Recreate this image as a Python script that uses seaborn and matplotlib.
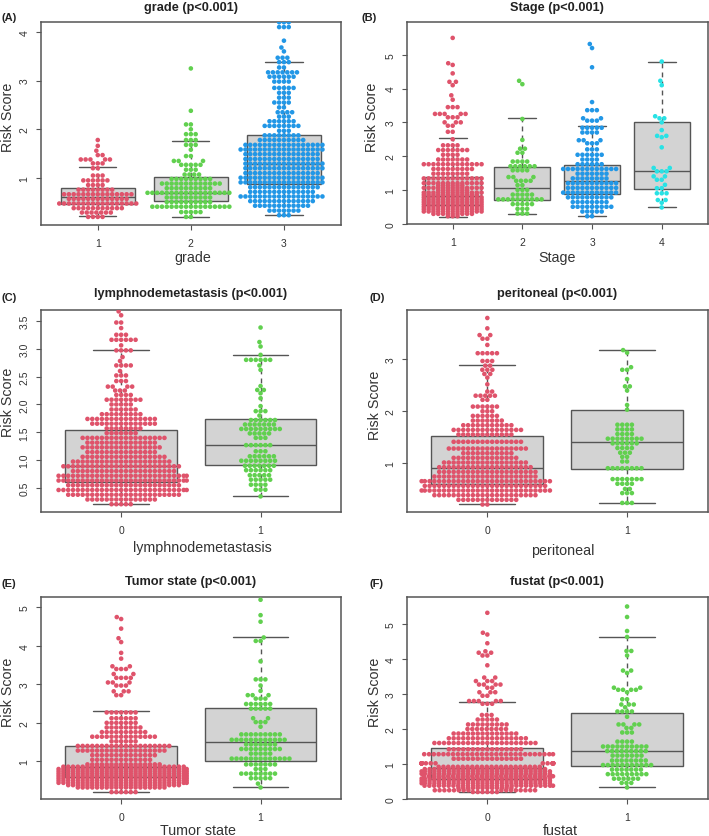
import logging
import warnings
import numpy as np
import pandas as pd
import matplotlib
matplotlib.use("Agg")
import matplotlib.pyplot as plt
import seaborn as sns
from seaborn import categorical as sns_cat

warnings.filterwarnings("ignore")

RED, GREEN, BLUE, CYAN = "#DF536B", "#61D04F", "#2297E6", "#28E2E5"
TITLES = ["grade", "Stage", "lymphnodemetastasis", "peritoneal", "Tumor state", "fustat"]

# (A) grade
a1_y = [.2,.29,.38,.475,.57,.665,.76,.855,.95,1.05,1.2,1.3,1.38,1.47,1.56,1.66,1.78]
a1_n = [4,7,11,17,13,15,8,4,6,3,2,3,5,2,1,1,1]
a2_y = [.2,.3,.41,.505,.6,.695,.79,.885,.98,1.07,1.17,1.27,1.35,1.45,1.58,1.68,1.78,1.9,2.0,2.1,2.38,3.25]
a2_n = [2,5,17,10,10,18,10,13,9,4,3,5,3,2,1,3,3,3,1,2,1,1]
a3_y = [.235,.33,.43,.525,.62,.715,.81,.91,1.005,1.10,1.2,1.295,1.39,1.49,1.585,1.68,1.78,1.875,1.97,2.07,2.165,2.26,2.35,2.45,2.55,2.65,2.75,2.85,2.98,3.08,3.17,3.27,3.38,3.47,3.6,3.68,3.82,4.1,4.2]
a3_n = [3,7,12,14,18,14,15,18,18,16,17,17,16,16,18,17,10,8,3,8,6,3,4,2,4,3,3,5,4,6,7,2,3,3,1,1,1,3,3]
# (B) Stage
b1_y = [.22,.36,.5,.64,.78,.92,1.06,1.2,1.34,1.48,1.62,1.76,1.9,2.04,2.18,2.32,2.5,2.72,2.9,3.0,3.15,3.25,3.45,3.67,3.8,4.1,4.2,4.45,4.7,4.75,5.5]
b1_n = [3,13,13,13,13,13,13,13,13,8,9,13,7,4,7,4,1,2,2,3,3,5,3,1,1,1,2,1,1,1,1]
b1x_y = [.29,.43,.57,.71,.85,.99,1.13]
b1x_n = [9,13,13,13,12,7,6]
b2_y = [.3,.44,.58,.72,.86,1.0,1.14,1.27,1.38,1.58,1.7,1.84,2.1,2.22,2.48,3.1,4.13,4.23]
b2_n = [3,3,5,10,5,3,2,4,3,4,6,4,2,2,1,1,1,1]
b3_y = [.22,.36,.5,.64,.78,.92,1.06,1.2,1.34,1.48,1.62,1.76,1.9,2.04,2.2,2.38,2.47,2.7,2.84,3.05,3.12,3.36,3.6,4.63,5.2,5.32]
b3_n = [2,5,9,8,10,12,11,11,8,7,12,6,4,6,3,3,3,4,5,3,2,3,1,1,1,1]
b4_y = [.48,.62,.7,.9,1.05,1.15,1.3,1.4,1.55,1.65,2.26,2.56,2.6,2.77,3.0,3.12,3.18,4.1,4.23,4.8]
b4_n = [1,1,2,3,2,1,2,2,3,2,1,1,2,1,1,2,1,1,1,1]
# (C) lymphnodemetastasis
c0_y = [.21,.295,.38,.465,.55,.635,.72,.805,.89,.975,1.06,1.145,1.23,1.315,1.4,1.485,1.57,1.655,1.74,1.825,1.91,2.0,2.085,2.17,2.25,2.32,2.42,2.52,2.6,2.7,2.78,2.85,2.97,3.06,3.16,3.25,3.37,3.47,3.6,3.67]
c0_n = [5,15,24,28,24,28,28,22,25,21,18,15,17,15,18,7,8,14,15,9,6,5,8,4,3,4,3,3,1,4,1,1,4,1,6,3,1,2,1,1]
c1_y = [.35,.47,.56,.65,.73,.82,.9,.99,1.07,1.16,1.27,1.4,1.48,1.56,1.64,1.72,1.8,1.88,1.97,2.11,2.2,2.26,2.33,2.62,2.7,2.8,2.89,3.04,3.12,3.38]
c1_n = [1,3,4,5,5,6,7,8,6,3,6,3,5,9,7,6,1,3,1,1,1,2,1,1,1,6,1,1,1,1]
# (D) peritoneal
d0_y = [.2,.29,.38,.47,.56,.65,.74,.83,.92,1.01,1.1,1.19,1.28,1.41,1.55,1.64,1.73,1.82,1.91,2.0,2.09,2.22,2.3,2.38,2.52,2.65,2.72,2.8,2.88,2.97,3.12,3.28,3.4,3.47,3.6,3.8]
d0_n = [2,13,22,28,26,28,22,21,20,18,14,11,17,15,12,15,11,7,6,3,6,2,5,2,1,1,2,3,2,3,5,1,2,2,1,1]
d1_y = [.23,.42,.5,.6,.69,.9,1.03,1.12,1.2,1.29,1.38,1.47,1.56,1.65,1.74,2.03,2.12,2.4,2.48,2.62,2.8,2.85,3.13,3.18]
d1_n = [3,3,2,4,7,8,2,2,3,4,6,8,4,4,4,1,1,1,2,1,2,1,1,1]
# (E) Tumor state
e0_y = [.2,.32,.44,.56,.68,.8,.92,1.04,1.16,1.28,1.4,1.52,1.64,1.76,1.88,2.0,2.12,2.27,2.72,2.82,2.97,3.05,3.17,3.27,3.4,3.47,3.67,3.82,4.1,4.2,4.45,4.7,4.75]
e0_n = [6,19,28,28,28,28,16,13,14,19,20,6,14,10,8,7,6,7,2,3,3,3,4,2,3,2,1,1,1,1,1,1,1]
e0x_y = [.38,.5,.62,.74,.86]
e0x_n = [24,28,28,28,26]
e1_y = [.32,.42,.56,.68,.8,.92,1.07,1.2,1.32,1.44,1.56,1.7,1.9,2.02,2.12,2.37,2.49,2.63,2.72,2.83,2.97,3.13,3.6,4.13,4.22,4.63,4.8,5.2]
e1_n = [1,1,5,8,3,7,13,5,9,7,12,9,1,3,2,5,6,3,3,1,1,3,1,2,1,1,1,1]
# (F) fustat
f0_y = [.2,.25,.38,.52,.65,.79,.92,1.02,1.15,1.28,1.42,1.6,1.735,1.87,2.0,2.13,2.27,2.4,2.72,2.8,2.95,3.05,3.18,3.27,3.37,3.47,3.82,4.1,4.18,4.22,4.45,4.7,4.75,5.32]
f0_n = [6,16,28,28,28,28,22,28,15,28,16,22,17,14,9,9,5,3,3,5,2,3,2,4,3,2,1,2,2,1,1,1,1,1]
f0x_y = [.315,.45,.585,.72,.855]
f0x_n = [12,28,28,28,26]
f1_y = [.33,.46,.58,.71,.84,.97,1.1,1.24,1.37,1.5,1.64,1.9,2.03,2.13,2.35,2.5,2.62,2.7,2.85,3.05,3.12,3.18,3.6,3.67,4.1,4.23,4.63,4.8,5.2,5.5]
f1_n = [1,3,6,9,7,11,8,7,9,10,4,3,2,4,1,4,1,3,2,1,4,2,1,2,1,2,1,1,1,1]

# box statistics: low whisker, q1, median, q3, high whisker
a_box = [[.22,.47,.60,.79,1.22],[.20,.52,.70,1.03,1.76],[.24,.88,1.28,1.88,3.38]]
b_box = [[.20,.55,.83,1.37,2.53],[.28,.70,1.07,1.68,3.12],[.22,.87,1.25,1.73,2.90],[.48,1.04,1.57,3.02,4.80]]
c_box = [[.21,.60,.90,1.55,2.98],[.35,.91,1.28,1.73,2.89]]
d_box = [[.20,.60,.90,1.53,2.90],[.22,.88,1.40,2.03,3.18]]
e_box = [[.20,.60,.85,1.40,2.32],[.32,1.02,1.50,2.38,4.23]]
f_box = [[.20,.58,.88,1.47,2.78],[.33,.94,1.38,2.47,4.64]]

W, H = 709, 837
sns.set_theme(style="ticks")
plt.rcParams["font.family"] = ["Liberation Sans", "DejaVu Sans"]


class WideSwarm(sns_cat.Beeswarm):
    """R's beeswarm spreads slightly past the box width."""
    def __init__(self, orient="x", width=0.8, warn_thresh=0.05):
        super().__init__(orient=orient, width=0.94, warn_thresh=1.0)


sns_cat.Beeswarm = WideSwarm
logging.disable(logging.WARNING)

fig = plt.figure(figsize=(W / 100, H / 100), dpi=100, facecolor="white")
EDGE = "#555555"


def frame(groups):
    labels, values = [], []
    for lab, (y, n) in groups.items():
        values.append(np.repeat(y, n))
        labels += [lab] * int(np.sum(n))
    return pd.DataFrame({"group": labels, "score": np.concatenate(values)})


panels = [
    dict(tag="(A)", title=TITLES[0], box=(40.7, 22.7, 341, 225.7), ylim=(0.04, 4.21), yt=[1,2,3,4], ytl=["1","2","3","4"],
         labels=["1","2","3"], colors=[RED,GREEN,BLUE], data=[(a1_y,a1_n),(a2_y,a2_n),(a3_y,a3_n)], extra=None, stats=a_box,
         tagxy=(2,18), titlexy=(191,8), xlab=(192.7,258), ylab=(8.2,117)),
    dict(tag="(B)", title=TITLES[1], box=(406.7, 22.7, 707.7, 225), ylim=(-0.01, 5.98), yt=[0,1,2,3,4,5], ytl=list("012345"),
         labels=["1","2","3","4"], colors=[RED,GREEN,BLUE,CYAN], data=[(b1_y,b1_n),(b2_y,b2_n),(b3_y,b3_n),(b4_y,b4_n)], extra=(b1x_y,b1x_n), stats=b_box,
         tagxy=(362,18), titlexy=(557,7.5), xlab=(557,258), ylab=(371.5,117)),
    dict(tag="(C)", title=TITLES[2], box=(40.7, 310.7, 341, 513), ylim=(0.07, 3.70), yt=[.5,1,1.5,2,2.5,3,3.5], ytl=["0.5","1.0","1.5","2.0","2.5","3.0","3.5"],
         labels=["0","1"], colors=[RED,GREEN], data=[(c0_y,c0_n),(c1_y,c1_n)], extra=None, stats=c_box,
         tagxy=(2,298), titlexy=(190.7,294), xlab=(202.7,548), ylab=(8.2,402)),
    dict(tag="(D)", title=TITLES[3], box=(406.7, 310.7, 707.7, 513), ylim=(0.055, 3.96), yt=[1,2,3], ytl=["1","2","3"],
         labels=["0","1"], colors=[RED,GREEN], data=[(d0_y,d0_n),(d1_y,d1_n)], extra=None, stats=d_box,
         tagxy=(370,298), titlexy=(557,294), xlab=(563,551), ylab=(374.5,405)),
    dict(tag="(E)", title=TITLES[4], box=(40.7, 597.7, 341, 800), ylim=(0.02, 5.28), yt=[1,2,3,4,5], ytl=list("12345"),
         labels=["0","1"], colors=[RED,GREEN], data=[(e0_y,e0_n),(e1_y,e1_n)], extra=(e0x_y,e0x_n), stats=e_box,
         tagxy=(2,584), titlexy=(190.7,582), xlab=(197.7,831), ylab=(8.2,692)),
    dict(tag="(F)", title=TITLES[5], box=(406.7, 597.7, 707.7, 800), ylim=(0, 5.78), yt=[0,1,2,3,4,5], ytl=list("012345"),
         labels=["0","1"], colors=[RED,GREEN], data=[(f0_y,f0_n),(f1_y,f1_n)], extra=(f0x_y,f0x_n), stats=f_box,
         tagxy=(370,584), titlexy=(557,582), xlab=(560.7,831), ylab=(374.5,692)),
]

for p in panels:
    x0, y0, x1, y1 = p["box"]
    ax = fig.add_axes([x0 / W, 1 - y1 / H, (x1 - x0) / W, (y1 - y0) / H])
    labels = p["labels"]
    pal = dict(zip(labels, p["colors"]))
    k = len(labels)
    pad = 0.5 + 0.113 if k == 3 else (0.5 + 0.16 if k == 4 else 0.5 + 0.077)
    bxp_stats = [dict(whislo=s[0], q1=s[1], med=s[2], q3=s[3], whishi=s[4], fliers=[]) for s in p["stats"]]
    ax.bxp(bxp_stats, positions=range(k), widths=0.8, patch_artist=True, showfliers=False, manage_ticks=False, zorder=1,
           boxprops=dict(facecolor="#D3D3D3", edgecolor=EDGE, linewidth=1.0),
           medianprops=dict(color=EDGE, linewidth=1.0),
           whiskerprops=dict(color=EDGE, linewidth=1.0, linestyle=(0, (3.5, 3))),
           capprops=dict(color=EDGE, linewidth=1.0), capwidths=0.4)
    df = frame(dict(zip(labels, p["data"])))
    sns.swarmplot(data=df, x="group", y="score", hue="group", order=labels, hue_order=labels, palette=pal,
                  size=3.3, linewidth=0, legend=False, ax=ax, zorder=3)
    if p["extra"] is not None:
        dfx = frame({labels[0]: p["extra"]})
        sns.swarmplot(data=dfx, x="group", y="score", hue="group", order=labels, hue_order=labels, palette=pal,
                      size=3.3, linewidth=0, legend=False, ax=ax, zorder=3)
    ax.set_xlim(-pad, k - 1 + pad)
    ax.set_ylim(*p["ylim"])
    ax.set_yticks(p["yt"])
    ax.set_yticklabels(p["ytl"], rotation=90, va="center")
    for s in ax.spines.values():
        s.set_visible(True)
        s.set_color(EDGE)
        s.set_linewidth(1.1)
    ax.tick_params(axis="both", length=3.6, width=0.8, color=EDGE, labelcolor="#333333", labelsize=7.5)
    ax.tick_params(axis="x", pad=6)
    ax.tick_params(axis="y", pad=4.5)
    ax.set_xlabel(p["title"], fontsize=10.3, color="#333333", va="center")
    ax.set_ylabel("Risk Score", fontsize=10.3, color="#333333", va="center", rotation=90)
    inv = ax.transAxes.inverted()
    xl = inv.transform((p["xlab"][0], H - p["xlab"][1]))
    yl = inv.transform((p["ylab"][0], H - p["ylab"][1]))
    ax.xaxis.set_label_coords(xl[0], xl[1])
    ax.yaxis.set_label_coords(yl[0], yl[1])
    fig.text(p["titlexy"][0] / W, 1 - p["titlexy"][1] / H, p["title"] + " (p<0.001)", fontsize=9.2, fontweight="bold",
             ha="center", va="center", color="#222222")
    fig.text(p["tagxy"][0] / W, 1 - p["tagxy"][1] / H, p["tag"], fontsize=8, fontweight="bold",
             ha="left", va="center", color="#222222")

fig.savefig("out.png", dpi=100)
